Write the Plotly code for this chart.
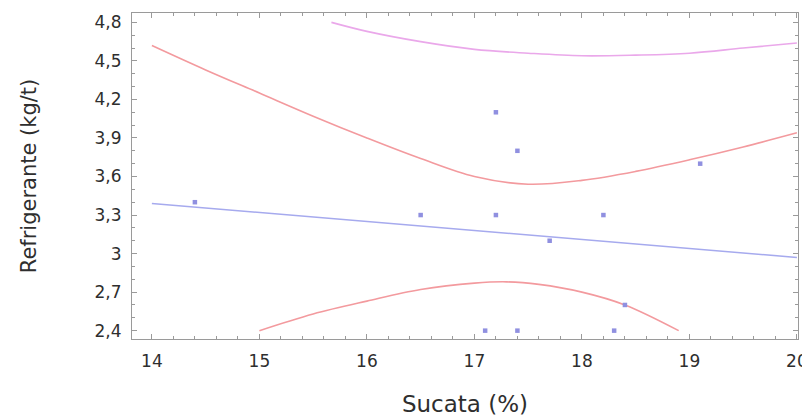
import plotly.graph_objects as go

# Observed data
sucata = [14.4, 16.5, 17.2, 18.2, 17.7, 17.2, 17.4, 19.1, 18.4, 17.1, 17.4, 18.3]
refrig = [3.4, 3.3, 3.3, 3.3, 3.1, 4.1, 3.8, 3.7, 2.6, 2.4, 2.4, 2.4]

# Fitted line
fit_x = [14, 20]
fit_y = [3.39, 2.97]

# Confidence band (red)
conf_up_x = [14, 14.5, 15, 15.5, 16, 16.5, 17, 17.5, 18, 18.5, 19, 19.5, 20]
conf_up_y = [4.62, 4.43, 4.25, 4.07, 3.90, 3.74, 3.60, 3.54, 3.57, 3.64, 3.73, 3.83, 3.94]
conf_lo_x = [15, 15.5, 16, 16.5, 17, 17.3, 17.6, 18, 18.4, 18.9]
conf_lo_y = [2.40, 2.53, 2.63, 2.72, 2.77, 2.78, 2.76, 2.70, 2.60, 2.40]

# Prediction band (pink)
pred_up_x = [15.67, 16, 16.5, 17, 17.5, 18, 18.5, 19, 19.5, 20]
pred_up_y = [4.80, 4.73, 4.65, 4.59, 4.56, 4.54, 4.545, 4.56, 4.60, 4.64]

FONT = "DejaVu Sans, Liberation Sans, Arial, sans-serif"
TXT = "#2e2e2e"

fig = go.Figure()
fig.add_trace(go.Scatter(x=pred_up_x, y=pred_up_y, mode="lines",
                         line=dict(color="#eaa8ea", width=1.6, shape="spline"), hoverinfo="skip"))
fig.add_trace(go.Scatter(x=conf_up_x, y=conf_up_y, mode="lines",
                         line=dict(color="#f39a9e", width=1.6, shape="spline"), hoverinfo="skip"))
fig.add_trace(go.Scatter(x=conf_lo_x, y=conf_lo_y, mode="lines",
                         line=dict(color="#f39a9e", width=1.6, shape="spline"), hoverinfo="skip"))
fig.add_trace(go.Scatter(x=fit_x, y=fit_y, mode="lines",
                         line=dict(color="#a6aaee", width=1.6)))
fig.add_trace(go.Scatter(x=sucata, y=refrig, mode="markers",
                         marker=dict(symbol="square", size=4.5, color="#9090e0")))

axis_common = dict(
    showgrid=False, zeroline=False, showline=True, linecolor="#9a9a9a", linewidth=1,
    mirror="allticks", ticks="inside", ticklen=5, tickcolor="#9a9a9a", tickwidth=1,
    automargin=False,
    tickfont=dict(family=FONT, size=17, color=TXT),
)

fig.update_layout(
    width=802, height=412,
    margin=dict(l=124, r=12, t=5, b=81),
    paper_bgcolor="white", plot_bgcolor="white",
    showlegend=False,
    separators=",.",
    font=dict(family=FONT, color=TXT),
    xaxis=dict(**axis_common, range=[13.815, 20.01], tick0=14, dtick=1,
               minor=dict(dtick=0.2, tick0=14, ticks="inside", ticklen=3, tickcolor="#9a9a9a"),
               ticklabelstandoff=7,
               title=dict(text="Sucata (%)", font=dict(family=FONT, size=23, color=TXT), standoff=25)),
    yaxis=dict(**axis_common, range=[2.335, 4.873], tick0=2.4, dtick=0.3,
               minor=dict(dtick=0.1, tick0=2.4, ticks="inside", ticklen=3, tickcolor="#9a9a9a"),
               ticklabelstandoff=6,
               title=dict(text="Refrigerante (kg/t)", font=dict(family=FONT, size=21, color=TXT), standoff=52)),
)

fig.write_html("out.html")
